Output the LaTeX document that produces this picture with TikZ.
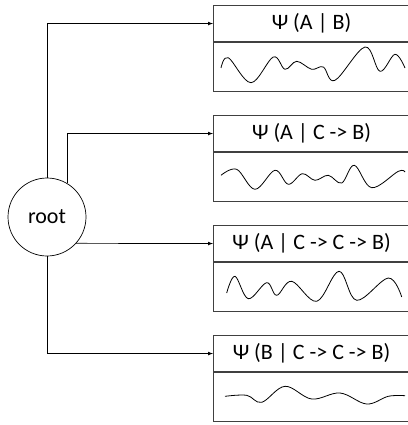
\documentclass[tikz,border=0pt]{standalone}
\usepackage{fontspec}
\setmainfont{Carlito}
\usepackage{tikz}
\usetikzlibrary{positioning,arrows}

\begin{document}
\begin{tikzpicture}[x=1pt,y=-1pt,>=latex,
  head/.style={draw=black!75,line width=1.1pt,rectangle,minimum width=196pt,minimum height=36pt,inner sep=0pt,anchor=north west,font=\fontsize{22}{26}\selectfont},
  body/.style={draw=black!75,line width=1.1pt,rectangle,minimum width=196pt,minimum height=49pt,inner sep=0pt,below=0pt of #1},
  wave/.style={line width=0.8pt,smooth,tension=0.6}]
\useasboundingbox (0,0) rectangle (407,425);
\node[draw,circle,minimum size=78pt,inner sep=0pt,line width=0.7pt,font=\fontsize{22}{26}\selectfont] (root) at (47,217) {root};
\node[head] (h1) at (213,5) {Ψ (A | B)};
\node[body=h1] (b1) {};
\node[head] (h2) at (213,115) {Ψ (A | C -> B)};
\node[body=h2] (b2) {};
\node[head] (h3) at (213,225) {Ψ (A | C -> C -> B)};
\node[body=h3] (b3) {};
\node[head] (h4) at (213,335) {Ψ (B | C -> C -> B)};
\node[body=h4] (b4) {};
\draw [->,line width=0.7pt] (root.north) |- (h1.west);
\draw [->,line width=0.7pt] (root.59) |- (h2.west);
\draw [->,line width=0.7pt] (root.-42) -- (h3.west);
\draw [->,line width=0.7pt] (root.south) |- (h4.west);
\draw [wave] plot coordinates {(221,68) (228.3,57.7) (251,82.7) (273.3,57) (285,69.3) (296.7,61.3) (311.7,69.3) (323.3,67) (335,80.3) (365,47) (380,71.3) (395,54.3) (405,68)};
\draw [wave] plot coordinates {(221,175.3) (236.7,169.3) (255,189.3) (275,170.3) (288.3,184.3) (302.3,173.7) (315,180.3) (328.3,175.3) (341.7,183) (354.3,165.3) (371.7,187.7) (398.3,171.3) (405,172)};
\draw [wave] plot coordinates {(226.7,293) (235,276.3) (248.3,298.7) (266.7,282.7) (276.7,295.3) (291.7,281.3) (316.7,301.3) (339,271.3) (356.7,300.3) (388.3,278) (401.7,297)};
\draw [wave] plot coordinates {(225,396.3) (246.7,395.3) (261.7,402.3) (285,386.3) (311.7,399) (340,393) (366.7,404) (388.3,396.3) (405,395.7)};
\end{tikzpicture}
\end{document}
